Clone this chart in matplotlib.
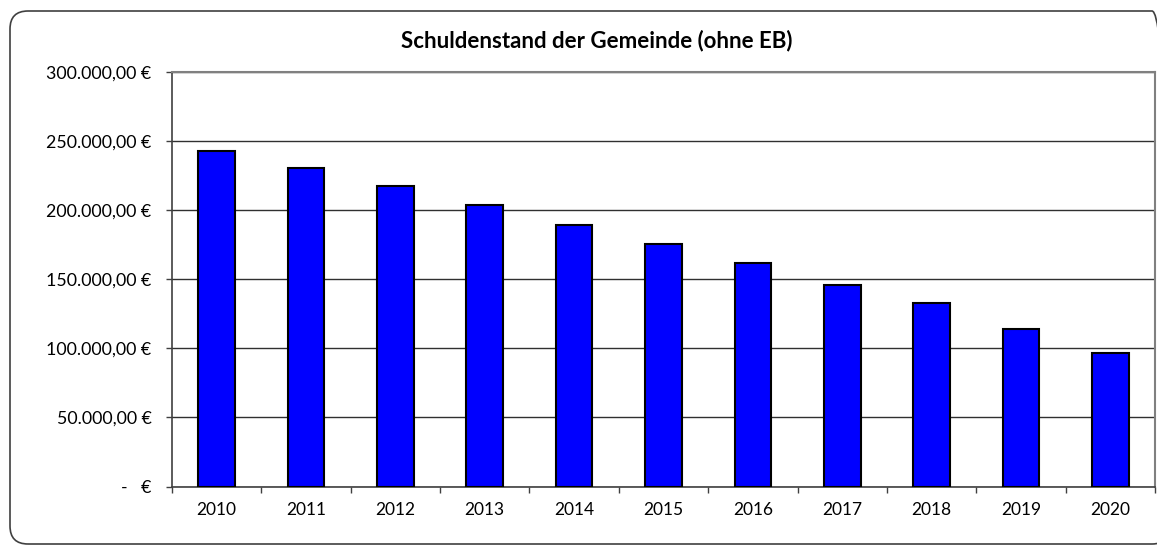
import matplotlib
matplotlib.use("Agg")
import matplotlib.pyplot as plt
from matplotlib.patches import FancyBboxPatch
from matplotlib.transforms import IdentityTransform
from matplotlib.ticker import FixedLocator, FuncFormatter

# Schuldenstand je Jahr
years = ["2010", "2011", "2012", "2013", "2014", "2015",
         "2016", "2017", "2018", "2019", "2020"]
debt = [243000, 230500, 217300, 204000, 189600, 175600,
        161400, 145700, 133000, 113900, 96300]
y_ticks = [0, 50000, 100000, 150000, 200000, 250000, 300000]

plt.rcParams["font.family"] = ["Lato", "DejaVu Sans"]


def euro(v, pos=None):
    if v == 0:
        return "-   €"
    s = f"{v:,.2f}".replace(",", "X").replace(".", ",").replace("X", ".")
    return s + " €"


W, H = 1157, 545
fig = plt.figure(figsize=(W / 100, H / 100), dpi=100)

# rounded chart frame (pixel coordinates)
frame = FancyBboxPatch((10, 1), 1160, 533,
                       boxstyle="round,pad=0,rounding_size=18",
                       transform=IdentityTransform(), facecolor="none",
                       edgecolor="#404040", linewidth=1.2, zorder=-1)
fig.patches.append(frame)

ax = fig.add_axes([172 / W, 1 - 486.5 / H, (1155 - 172) / W, (486.5 - 72) / H])
ax.set_facecolor("white")
ax.set_zorder(2)

x = list(range(len(years)))
ax.bar(x, debt, width=0.41, color="#0000FF", edgecolor="black",
       linewidth=1.5, zorder=3)

ax.set_xlim(-0.5, len(years) - 0.5)
ax.set_ylim(0, 300000)

ax.yaxis.set_major_locator(FixedLocator(y_ticks))
ax.yaxis.set_major_formatter(FuncFormatter(euro))
ax.grid(axis="y", color="#303030", linewidth=1, zorder=1)

ax.set_xticks(x)
ax.set_xticklabels(years)
ax.xaxis.set_minor_locator(FixedLocator([i - 0.5 for i in range(len(years) + 1)]))
ax.tick_params(axis="x", which="major", length=0, pad=11, labelsize=12.5)
ax.tick_params(axis="x", which="minor", length=4.3, width=1, color="#404040")
ax.tick_params(axis="y", length=4.3, width=1, color="#404040", pad=10.5, labelsize=12.8)

for side in ["left", "bottom"]:
    ax.spines[side].set_color("#404040")
    ax.spines[side].set_linewidth(1.2)
for side in ["top", "right"]:
    ax.spines[side].set_color("#808080")
    ax.spines[side].set_linewidth(1.5)

fig.text(597 / W, 1 - 41 / H, "Schuldenstand der Gemeinde (ohne EB)",
         ha="center", va="center", fontsize=16, fontweight="bold")

fig.savefig("out.png", dpi=100)
